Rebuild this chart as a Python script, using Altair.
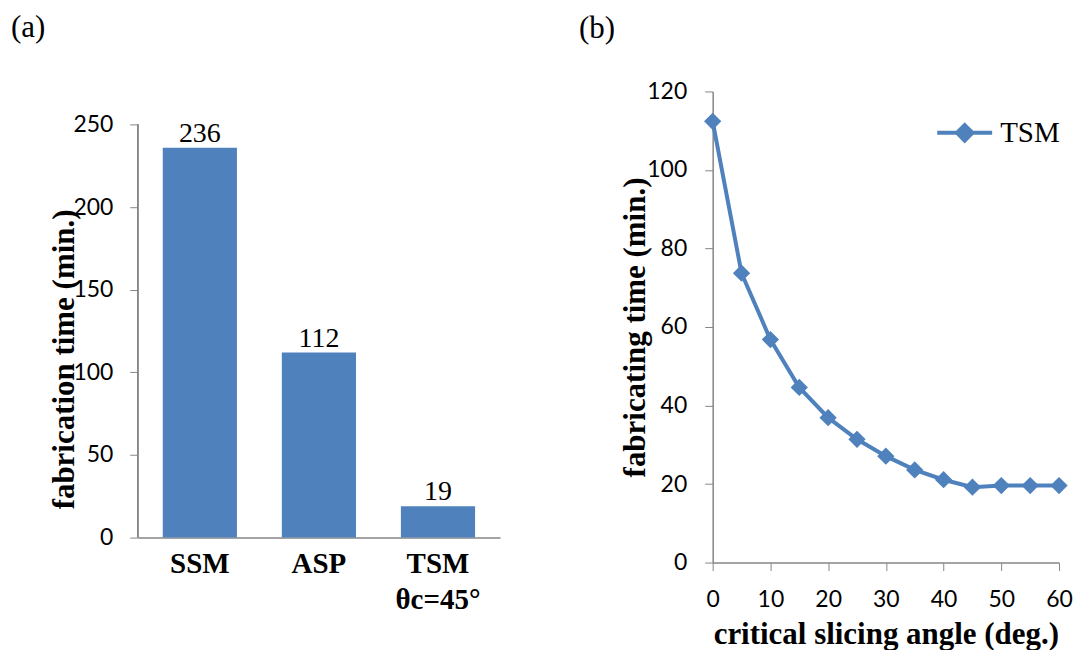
import altair as alt
import pandas as pd

# Panel (a)
methods = ["SSM", "ASP", "TSM|θc=45°"]
fab_times = [236, 112, 19]

# Panel (b)
angles = [0, 5, 10, 15, 20, 25, 30, 35, 40, 45, 50, 55, 60]
tsm_times = [112.4, 73.7, 56.8, 44.6, 36.9, 31.4, 27.1, 23.6, 21.1, 19.2, 19.6, 19.6, 19.6]
series_name = ["TSM"] * len(angles)

left_ticks = [0, 50, 100, 150, 200, 250]
right_yticks = [0, 20, 40, 60, 80, 100, 120]
right_xticks = [0, 5, 10, 15, 20, 25, 30, 35, 40, 45, 50, 55, 60]

BLUE = "#4F81BD"
GRAY = "#868686"
SERIF = "Liberation Serif"
SANS = "Lato"

df_a = pd.DataFrame({"method": methods, "time": fab_times})
df_b = pd.DataFrame({"angle": angles, "time": tsm_times, "series": series_name})

y_scale_a = alt.Scale(domain=[0, 270], nice=False)
x_a = alt.X(
    "method:N", sort=methods,
    scale=alt.Scale(paddingInner=0.377, paddingOuter=0.21),
    axis=alt.Axis(title=None, labelAngle=0, labelExpr="split(datum.label, '|')",
                  labelFont=SERIF, labelFontWeight="bold", labelFontSize=29,
                  labelColor="black", labelLineHeight=36, ticks=False,
                  domainColor=GRAY, domainWidth=1.5, labelPadding=12),
)
y_a = alt.Y(
    "time:Q", scale=y_scale_a,
    axis=alt.Axis(values=left_ticks, grid=False, title="fabrication time (min.)",
                  titleFont=SERIF, titleFontWeight="bold", titleFontSize=31,
                  titleColor="black", titlePadding=-8, titleY=268,
                  labelFont=SANS, labelFontSize=23, labelColor="black",
                  labelPadding=17, tickSize=8, tickColor=GRAY, domain=False),
)
bars = alt.Chart(df_a).mark_bar(color=BLUE).encode(x=x_a, y=y_a)
bar_text = alt.Chart(df_a).mark_text(baseline="alphabetic", dy=-6, font=SERIF,
                                     fontSize=28, color="black").encode(
    x=alt.X("method:N", sort=methods), y="time:Q", text="time:Q")
axis_line = alt.Chart(df_a).mark_rule(color=GRAY, strokeWidth=1.5).encode(
    x=alt.value(0),
    y=alt.Y(datum=0, type="quantitative", scale=y_scale_a),
    y2=alt.Y2(datum=left_ticks[-1]),
)

chart_a = alt.layer(bars, bar_text, axis_line).properties(
    width=363, height=447,
    title=alt.TitleParams("(a)", anchor="start", frame="group", dx=-127, offset=48,
                          font=SERIF, fontSize=31, fontWeight="normal", color="black"),
)

x_b = alt.X(
    "angle:Q", scale=alt.Scale(domain=[0, 60], nice=False, zero=False),
    axis=alt.Axis(values=right_xticks, grid=False,
                  labelExpr="datum.value % 10 == 0 ? datum.label : ''",
                  title="critical slicing angle (deg.)", titleFont=SERIF,
                  titleFontWeight="bold", titleFontSize=31, titleColor="black",
                  titlePadding=8, labelFont=SANS, labelFontSize=23, labelColor="black",
                  labelPadding=18, tickSize=8, tickColor=GRAY, domainColor=GRAY,
                  domainWidth=1.5, labelFlush=False),
)
y_b = alt.Y(
    "time:Q", scale=alt.Scale(domain=[0, 120], nice=False),
    axis=alt.Axis(values=right_yticks, grid=False, title="fabricating time (min.)",
                  titleFont=SERIF, titleFontWeight="bold", titleFontSize=31,
                  titleColor="black", titlePadding=-5,
                  labelFont=SANS, labelFontSize=23, labelColor="black",
                  labelPadding=18, tickSize=8, tickColor=GRAY, domainColor=GRAY,
                  domainWidth=1.5),
)

legend_path = "M-1,0L1,0M0,-0.28L0.28,0L0,0.28L-0.28,0Z"
line = alt.Chart(df_b).mark_line(strokeWidth=4).encode(
    x=x_b, y=y_b,
    color=alt.Color("series:N", scale=alt.Scale(range=[BLUE]),
                    legend=alt.Legend(title=None, orient="none", legendX=223, legendY=12,
                                      symbolType=legend_path, symbolSize=3025,
                                      symbolStrokeWidth=4, symbolFillColor=BLUE,
                                      symbolStrokeColor=BLUE, labelFont=SERIF,
                                      labelFontSize=29, labelColor="black",
                                      labelOffset=6, padding=0)),
)
pts = alt.Chart(df_b).mark_point(shape="diamond", filled=True, size=300, opacity=1,
                                 color=BLUE).encode(x="angle:Q", y="time:Q")

chart_b = alt.layer(line, pts).properties(
    width=347, height=472,
    title=alt.TitleParams("(b)", anchor="start", frame="group", dx=-134, offset=36,
                          font=SERIF, fontSize=31, fontWeight="normal", color="black"),
)

chart = (
    alt.hconcat(chart_a, chart_b, spacing=79)
    .resolve_legend(color="independent")
    .resolve_scale(color="independent")
    .properties(padding={"left": 3, "top": 3, "right": 0, "bottom": 0},
                background="white")
    .configure_view(stroke=None)
)

chart.save("out.html", embed_options={"renderer": "svg", "actions": False})
